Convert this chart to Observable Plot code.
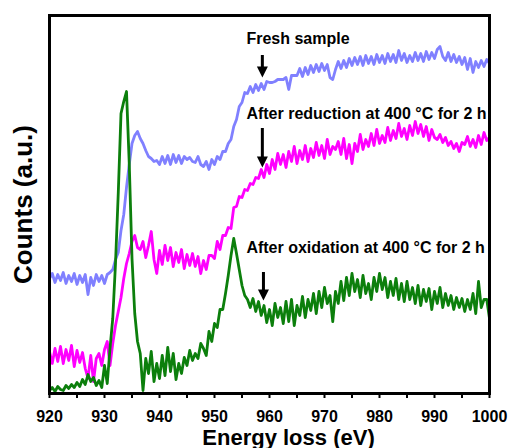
<!DOCTYPE html>
<html><head><meta charset="utf-8">
<script src="https://cdn.jsdelivr.net/npm/d3@7"></script>
<script src="https://cdn.jsdelivr.net/npm/@observablehq/plot@0.6"></script>
<style>html,body{margin:0;padding:0;background:#fff}#chart svg{display:block}</style>
</head><body><div id="chart"></div>
<script>
const energy = [
920,920.5,921,921.5,922,922.5,923,923.5,924,924.5,925,925.5,926,926.5,927,927.5,928,928.5,929,929.5,
930,930.5,931,931.5,932,932.5,933,933.5,934,934.5,935,935.5,936,936.5,937,937.5,938,938.5,939,939.5,
940,940.5,941,941.5,942,942.5,943,943.5,944,944.5,945,945.5,946,946.5,947,947.5,948,948.5,949,949.5,
950,950.5,951,951.5,952,952.5,953,953.5,954,954.5,955,955.5,956,956.5,957,957.5,958,958.5,959,959.5,
960,960.5,961,961.5,962,962.5,963,963.5,964,964.5,965,965.5,966,966.5,967,967.5,968,968.5,969,969.5,
970,970.5,971,971.5,972,972.5,973,973.5,974,974.5,975,975.5,976,976.5,977,977.5,978,978.5,979,979.5,
980,980.5,981,981.5,982,982.5,983,983.5,984,984.5,985,985.5,986,986.5,987,987.5,988,988.5,989,989.5,
990,990.5,991,991.5,992,992.5,993,993.5,994,994.5,995,995.5,996,996.5,997,997.5,998,998.5,999,999.5,
1000];

const fresh = [
115,120,111,119,113,121,110,118,112,120,109,118,111,119,99,116,108,119,112,118,
110,119,121,124,134,141,163,179,206,229,250,258,262,255,250,243,237,235,232,233,
229,237,230,238,229,239,231,238,230,237,234,236,232,231,237,229,227,232,224,234,
229,237,234,242,242,250,254,267,274,287,291,301,300,307,301,309,303,310,304,312,
311,311,312,314,314,314,316,304,318,318,318,325,317,326,319,328,321,329,322,330,
323,329,316,314,324,332,325,333,326,335,328,336,329,337,328,338,330,337,329,339,
331,338,330,340,332,339,331,343,333,340,331,338,332,341,333,340,332,342,334,341,
335,344,347,337,333,341,332,339,331,337,329,336,324,335,321,332,326,333,327,334,
330];

const reduced = [
42,30,45,32,47,30,44,33,48,27,43,31,41,25,15,38,12,35,40,28,
44,52,28,50,68,82,96,115,130,140,152,158,146,144,152,136,148,162,134,120,
143,129,148,133,146,127,141,131,144,125,139,128,140,127,137,120,133,124,138,138,
135,152,144,158,158,166,165,186,187,197,196,204,203,210,209,216,215,224,216,229,
220,234,224,240,229,239,226,242,232,247,230,243,234,248,232,245,236,251,238,248,
235,254,239,247,244,252,239,255,235,249,230,250,242,259,244,254,247,260,248,264,
250,258,251,266,253,263,255,270,257,265,254,268,258,272,260,269,257,267,253,264,
256,254,259,251,256,248,252,245,250,242,251,249,257,247,254,246,258,249,261,253,
256];

const oxidized = [
3,6,2,7,4,3,8,5,9,6,11,7,14,9,19,12,16,8,13,6,
28,10,45,75,130,200,280,292,302,230,135,80,52,40,3,35,20,42,12,30,
15,38,18,46,22,40,14,30,20,36,28,43,33,40,35,50,45,38,62,52,
70,66,84,84,100,118,138,155,140,124,108,98,94,86,95,82,92,78,88,71,
84,68,90,76,86,70,92,72,94,68,88,78,97,76,94,83,100,80,102,86,
106,90,98,72,102,90,112,93,116,98,120,102,114,96,118,100,110,94,116,102,
120,104,116,96,112,98,115,94,110,92,112,94,106,90,108,88,104,92,105,84,
102,90,106,86,100,88,98,84,96,86,95,82,94,84,100,80,112,86,94,94,
75];

const majorTicks = [920, 930, 940, 950, 960, 970, 980, 990, 1000];
const minorTicks = [925, 935, 945, 955, 965, 975, 985, 995];

const labels = ["Fresh sample", "After reduction at 400 °C for 2 h", "After oxidation at 400 °C for 2 h"];
const labelEnergy = [955.8, 955.8, 955.8];
const labelCounts = [355, 280, 146];
const arrowEnergy = [958.7, 958.7, 958.9];
const arrowFrom = [338, 265, 121];
const arrowTo = [316, 226, 93];

const xTitle = "Energy loss (eV)";
const yTitle = "Counts (a.u.)";

const series = [
  {name: "Fresh", values: fresh, color: "#8080ff"},
  {name: "Reduced", values: reduced, color: "#ff00ff"},
  {name: "Oxidized", values: oxidized, color: "#0c7f0c"}
];
const table = series.map(s => energy.map((e, i) => ({energy: e, counts: s.values[i], sample: s.name})));
const notes = labels.map((t, i) => ({text: t, x: labelEnergy[i], y: labelCounts[i]}));
const arrows = arrowEnergy.map((x, i) => ({x, from: arrowFrom[i], to: arrowTo[i]}));

const headSymbol = {draw(ctx) { ctx.moveTo(0, 0); ctx.lineTo(-5.5, -11); ctx.lineTo(5.5, -11); ctx.closePath(); }};
const font = "'Liberation Sans', Arial, Helvetica, sans-serif";

const chart = Plot.plot({
  width: 511, height: 448,
  marginTop: 15, marginRight: 22, marginBottom: 55, marginLeft: 49,
  style: {fontFamily: font, background: "white", color: "black"},
  x: {domain: [920, 1000]},
  y: {domain: [0, 378], axis: null},
  marks: [
    ...series.map((s, k) => Plot.line(table[k], {x: "energy", y: "counts", stroke: s.color, strokeWidth: 2.8, clip: true})),
    Plot.ruleX(arrows, {x: "x", y1: "from", y2: "to", stroke: "black", strokeWidth: 3, insetBottom: 7}),
    Plot.dot(arrows, {x: "x", y: "to", symbol: headSymbol, fill: "black", stroke: "none"}),
    Plot.text(notes, {x: "x", y: "y", text: "text", textAnchor: "start", fontSize: 16, fontWeight: "bold", fill: "black"}),
    Plot.frame({stroke: "black", strokeWidth: 3}),
    Plot.axisX(majorTicks, {tickSize: 5, tickPadding: 12, strokeWidth: 2, fontSize: 16, fontWeight: "bold", label: null, tickFormat: d => String(d)}),
    Plot.axisX(minorTicks, {tickSize: 5, strokeWidth: 2, label: null, tickFormat: () => ""}),
    Plot.text([xTitle], {frameAnchor: "bottom", lineAnchor: "bottom", dx: 19, dy: 51, text: d => d, fontSize: 22, fontWeight: "bold", fill: "black"}),
    Plot.text([yTitle], {frameAnchor: "left", textAnchor: "middle", dx: -26, rotate: -90, text: d => d, fontSize: 26, fontWeight: "bold", fill: "black"})
  ]
});
document.getElementById("chart").appendChild(chart);
</script>
</body></html>
